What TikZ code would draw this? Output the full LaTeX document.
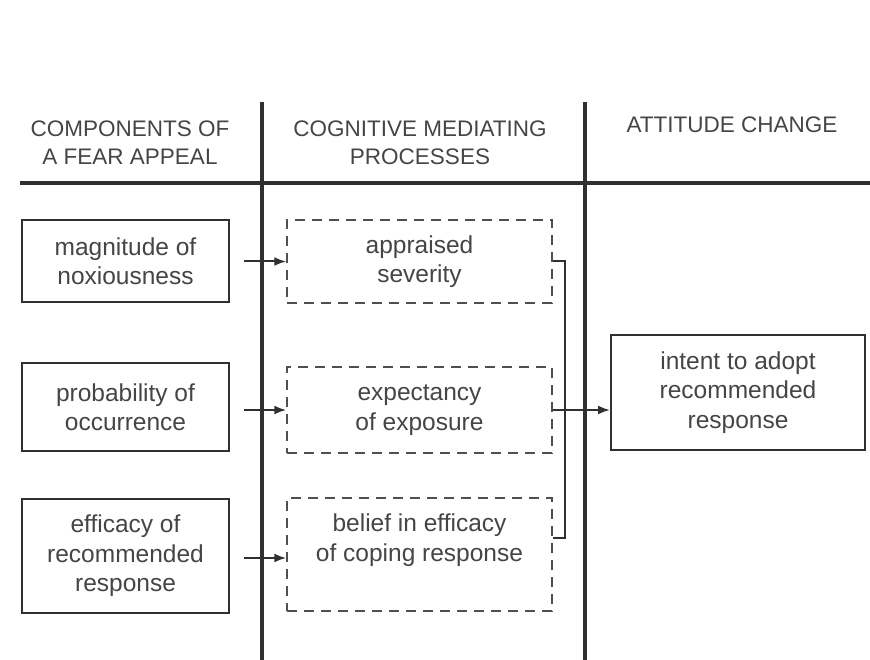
\documentclass[tikz,border=0pt]{standalone}
\usepackage{fontspec}
\setmainfont{Liberation Sans}
\usepackage{xcolor}
\usepackage{tikz}
\usetikzlibrary{arrows.meta,positioning}

\definecolor{ink}{HTML}{303030}

\begin{document}
\begin{tikzpicture}[
    x=1pt, y=-1pt,
    font=\fontsize{24.5}{29.5}\selectfont, text=ink!90,
    box/.style={draw=ink, line width=2pt, minimum width=207pt,
                align=center, inner sep=3pt},
    guess/.style={draw=ink!85, dashed, dash pattern=on 10pt off 7pt,
                  line width=1.5pt, minimum width=265pt,
                  align=center, inner sep=3pt},
    head/.style={font=\fontsize{22.5}{28}\selectfont, align=center},
    rule/.style={draw=ink, line width=3.5pt},
    link/.style={draw=ink, line width=2pt},
    flow/.style={-{Latex[length=12pt, width=9pt]}, draw=ink, line width=2pt}
  ]
    \useasboundingbox (0,0) rectangle (870,660);

    % column headings and rules
    \node[head] (h1) at (130,143) {COMPONENTS OF\\A FEAR APPEAL};
    \node[head] (h2) at (420,143) {COGNITIVE MEDIATING\\PROCESSES};
    \node[head] (h3) at (732,125) {ATTITUDE CHANGE};

    \coordinate (c1top) at (262,102);
    \coordinate (c2top) at (585,102);
    \coordinate (hl) at (20,183);
    \draw[rule] (c1top) -- (c1top |- 0,660);
    \draw[rule] (c2top) -- (c2top |- 0,660);
    \draw[rule] (hl) -- (hl -| 870,0);

    % fear appeal components
    \node[box, minimum height=82pt]  (mag)  at (125.5,261) {magnitude of\\noxiousness};
    \node[box, minimum height=88pt]  (prob) at (125.5,407) {probability of\\occurrence};
    \node[box, minimum height=114pt] (eff)  at (125.5,556) {efficacy of\\recommended\\response};

    % mediating processes
    \node[guess, minimum height=83pt]  (sev) at (419.5,261.5) {appraised\\severity};
    \node[guess, minimum height=86pt]  (exp) at (419.5,410) {expectancy\\of exposure};
    \node[guess, minimum height=113pt, text depth=34pt] (bel) at (419.5,554.5)
      {belief in efficacy\\of coping response};

    % attitude change
    \node[box, minimum width=254pt, minimum height=115pt] (act) at (738,392.5)
      {intent to adopt\\recommended\\response};

    \draw[flow] ([xshift=-42pt]sev.west) -- (sev.west);
    \draw[flow] ([xshift=-42pt]exp.west) -- (exp.west);
    \draw[flow] ([xshift=-42pt,yshift=-3.5pt]bel.west) -- ([yshift=-3.5pt]bel.west);

    \coordinate (jn) at (565,410);
    \draw[link] (sev.east) -| (jn) |- ([yshift=16.5pt]bel.east);
    \draw[link] (exp.east) -- (jn);
    \draw[flow] (jn) -- (jn -| act.west);
  \end{tikzpicture}
\end{document}
